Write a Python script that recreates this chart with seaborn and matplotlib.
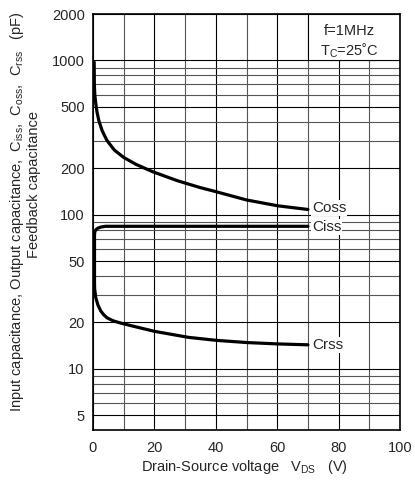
import matplotlib
matplotlib.use("Agg")
import matplotlib.pyplot as plt
import matplotlib.ticker as mticker
from matplotlib.patches import Rectangle
import seaborn as sns
import pandas as pd

# ---- data ----
coss_v = [0.4, 0.45, 0.6, 0.9, 1.3, 1.9, 3.0, 4.6, 7.0, 10, 14, 19.4, 27.5, 34.8, 40, 50, 60.3, 70]
coss_c = [975, 700, 600, 530, 465, 408, 350, 302, 262, 235, 212, 190, 166, 150, 141, 124.5, 114, 108]

ciss_v = [0.5, 0.5, 0.6, 0.9, 1.5, 2.5, 4.0, 70]
ciss_c = [36, 74, 77.5, 79.5, 81.5, 83, 84, 84]

crss_v = [0.5, 0.55, 0.9, 1.6, 2.5, 3.5, 4.6, 6.5, 9, 14, 20, 31, 40, 50, 60, 70]
crss_c = [36, 33, 29, 26, 23.8, 22.4, 21.4, 20.5, 19.8, 18.7, 17.5, 16, 15.3, 14.8, 14.5, 14.3]

series_names = ["Coss", "Ciss", "Crss"]
y_major = [5, 10, 20, 50, 100, 200, 500, 1000, 2000]
y_major_labels = ["5", "10", "20", "50", "100", "200", "500", "1000", "2000"]
x_ticks = [0, 20, 40, 60, 80, 100]

sns.set_style("white")
plt.rcParams["font.family"] = ["Liberation Sans", "DejaVu Sans"]
plt.rcParams["mathtext.fontset"] = "custom"
plt.rcParams["mathtext.rm"] = "Liberation Sans"
plt.rcParams["mathtext.it"] = "Liberation Sans"

fig = plt.figure(figsize=(4.15, 4.86), dpi=100)
ax = fig.add_axes([0.224, 0.115, 0.740, 0.856])

ax.set_yscale("log")
ax.set_xlim(0, 100)
ax.set_ylim(4, 2000)

# grid
ax.yaxis.set_major_locator(mticker.FixedLocator(y_major))
ax.yaxis.set_major_formatter(mticker.FixedFormatter(y_major_labels))
ax.yaxis.set_minor_locator(mticker.LogLocator(base=10, subs=[3, 4, 6, 7, 8, 9]))
ax.yaxis.set_minor_formatter(mticker.NullFormatter())
ax.xaxis.set_major_locator(mticker.FixedLocator(x_ticks))
ax.xaxis.set_minor_locator(mticker.MultipleLocator(10))
ax.set_axisbelow(True)
ax.grid(which="major", color="black", linewidth=0.8)
ax.grid(which="minor", color="#555555", linewidth=0.8)
ax.tick_params(which="both", length=0, labelsize=10.5, pad=6)
ax.tick_params(axis="x", pad=8)
for s in ax.spines.values():
    s.set_color("black")
    s.set_linewidth(1.2)

frames = [
    pd.DataFrame({"V": coss_v, "C": coss_c, "s": "Coss"}),
    pd.DataFrame({"V": ciss_v, "C": ciss_c, "s": "Ciss"}),
    pd.DataFrame({"V": crss_v, "C": crss_c, "s": "Crss"}),
]
for df in frames:
    sns.lineplot(data=df, x="V", y="C", sort=False, estimator=None,
                 color="black", linewidth=2.3, ax=ax, zorder=3)

ax.set_xlabel("")
ax.set_ylabel("")

# condition box
ax.add_patch(Rectangle((70, 1000), 30, 1000, facecolor="white",
                       edgecolor="black", linewidth=0.8, zorder=1))
ax.text(83.5, 1560, "f=1MHz", ha="center", va="center", fontsize=10.5, zorder=4)
ax.text(83.5, 1160, r"T$_{\rm C}$=25˚C", ha="center", va="center", fontsize=10.5, zorder=4)

# curve labels
bb = dict(facecolor="white", edgecolor="none", pad=0.5)
ax.text(71.3, coss_c[-1] + 2, "Coss", ha="left", va="center", fontsize=11, bbox=bb, zorder=4)
ax.text(71.3, ciss_c[-1] - 1, "Ciss", ha="left", va="center", fontsize=11, bbox=bb, zorder=4)
ax.text(71.3, crss_c[-1], "Crss", ha="left", va="center", fontsize=11, bbox=bb, zorder=4)

# axis labels
fig.text(0.59, 0.039, r"Drain-Source voltage   V$_{\rm DS}$   (V)", ha="center",
         va="center", fontsize=10.5)
fig.text(0.042, 0.565,
         r"Input capacitance, Output capacitance,  C$_{\rm iss}$,  C$_{\rm oss}$,  C$_{\rm rss}$   (pF)",
         rotation=90, ha="center", va="center", fontsize=10.5)
fig.text(0.082, 0.62, "Feedback capacitance", rotation=90, ha="center",
         va="center", fontsize=10.5)

fig.savefig("out.png", dpi=100)
